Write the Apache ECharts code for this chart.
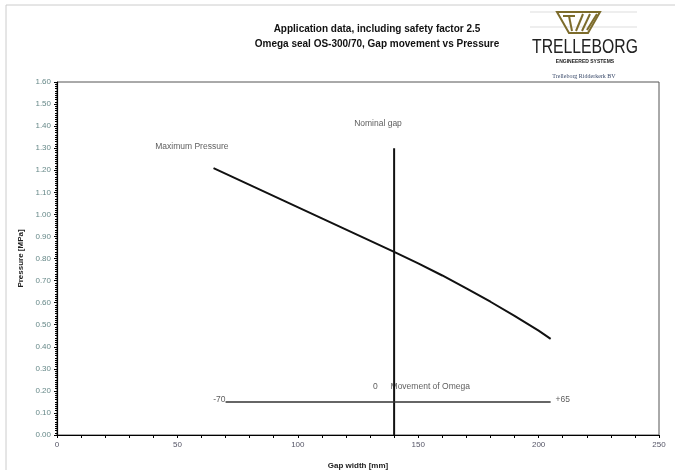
<!DOCTYPE html>
<html>
<head>
<meta charset="utf-8">
<script src="https://cdn.jsdelivr.net/npm/echarts@6/dist/echarts.min.js"></script>
<style>
  html, body { margin: 0; padding: 0; background: #fff; }
  #chart { width: 675px; height: 470px; }
</style>
</head>
<body>
<div id="chart"></div>
<script>
// gap width [mm] vs pressure [MPa]
const gapWidth = [65, 80, 95, 110, 125, 140, 150, 160, 170, 180, 190, 200, 205]
const maxPressure = [1.21, 1.134, 1.058, 0.982, 0.906, 0.83, 0.778, 0.723, 0.665, 0.604, 0.54, 0.473, 0.436]

const nominalGap = [[140, 0], [140, 1.30]]
const movementLine = [[70, 0.15], [205, 0.15]]

const xTicks = { min: 0, max: 250, interval: 50 }
const yTicks = { min: 0, max: 1.6, interval: 0.1 }

// annotation texts placed in data coordinates
const notes = [
  { text: 'Maximum Pressure', x: 56, y: 1.305, align: 'center' },
  { text: 'Nominal gap', x: 133.3, y: 1.41, align: 'center' },
  { text: '0', x: 132.2, y: 0.219, align: 'center' },
  { text: 'Movement of Omega', x: 155, y: 0.219, align: 'center' },
  { text: '-70', x: 70, y: 0.162, align: 'right' },
  { text: '+65', x: 207, y: 0.162, align: 'left' }
]

const chart = echarts.init(document.getElementById('chart'))

const font = 'Liberation Sans, Arial, sans-serif'
const olive = '#7d6c2c'

const option = {
  animation: false,
  backgroundColor: '#fff',
  title: {
    text: 'Application data, including safety factor 2.5\nOmega seal OS-300/70, Gap movement vs Pressure',
    left: 372,
    top: 17,
    textAlign: 'center',
    textStyle: { fontSize: 10, fontWeight: 'bold', fontFamily: font, color: '#111', lineHeight: 15, align: 'center' }
  },
  grid: {
    left: 57, right: 16, top: 82, bottom: 35,
    outerBoundsMode: 'none',
    show: true, borderColor: '#555', borderWidth: 1
  },
  xAxis: {
    type: 'value',
    min: xTicks.min, max: xTicks.max, interval: xTicks.interval,
    name: 'Gap width [mm]',
    nameLocation: 'middle',
    nameGap: 27,
    nameTextStyle: { fontSize: 8, fontWeight: 'bold', fontFamily: font, color: '#222' },
    axisLine: { lineStyle: { color: '#000', width: 1.2 } },
    axisTick: { lineStyle: { color: '#000' }, length: 3 },
    minorTick: { show: true, splitNumber: 5, length: 3, lineStyle: { color: '#000' } },
    axisLabel: { fontSize: 8, fontFamily: font, color: '#556', margin: 6 },
    splitLine: { show: false }
  },
  yAxis: {
    type: 'value',
    min: yTicks.min, max: yTicks.max, interval: yTicks.interval,
    name: 'Pressure [MPa]',
    nameLocation: 'middle',
    nameGap: 32,
    nameTextStyle: { fontSize: 8, fontWeight: 'bold', fontFamily: font, color: '#222' },
    axisLine: { lineStyle: { color: '#000', width: 1.2 } },
    axisTick: { lineStyle: { color: '#000' }, length: 3 },
    minorTick: { show: true, splitNumber: 10, length: 2, lineStyle: { color: '#000' } },
    axisLabel: { fontSize: 8, fontFamily: font, color: '#688', margin: 6, formatter: v => v.toFixed(2) },
    splitLine: { show: false }
  },
  series: [
    {
      name: 'Maximum Pressure',
      type: 'line',
      data: gapWidth.map((g, i) => [g, maxPressure[i]]),
      showSymbol: false,
      lineStyle: { color: '#111', width: 2 }
    },
    {
      name: 'Nominal gap',
      type: 'line',
      data: nominalGap,
      showSymbol: false,
      lineStyle: { color: '#111', width: 2 }
    },
    {
      name: 'Movement',
      type: 'line',
      data: movementLine,
      showSymbol: false,
      lineStyle: { color: '#333', width: 1.5 }
    },
    {
      name: 'notes',
      type: 'scatter',
      symbolSize: 0,
      silent: true,
      data: notes.map(n => ({
        value: [n.x, n.y],
        label: {
          show: true,
          position: n.align === 'right' ? 'left' : (n.align === 'left' ? 'right' : 'inside'),
          distance: 0,
          formatter: n.text,
          fontSize: 8.5,
          fontFamily: font,
          color: '#333'
        }
      }))
    }
  ],
  graphic: [
    // page frame
    { type: 'rect', shape: { x: 6, y: 5, width: 700, height: 500 }, style: { fill: 'none', stroke: '#ccc', lineWidth: 1 }, silent: true },
    // logo guide lines
    { type: 'line', shape: { x1: 530, y1: 12, x2: 637, y2: 12 }, style: { stroke: '#ddd', lineWidth: 1 } },
    { type: 'line', shape: { x1: 530, y1: 27, x2: 637, y2: 27 }, style: { stroke: '#ddd', lineWidth: 1 } },
    // logo mark
    { type: 'polygon', shape: { points: [[557, 12], [600, 12], [588, 33], [569, 33]] }, style: { fill: 'none', stroke: olive, lineWidth: 2 } },
    { type: 'polyline', shape: { points: [[563, 16], [575, 16]] }, style: { stroke: olive, lineWidth: 2 } },
    { type: 'polyline', shape: { points: [[569, 16], [572, 31]] }, style: { stroke: olive, lineWidth: 2 } },
    { type: 'polyline', shape: { points: [[583, 14], [576, 31]] }, style: { stroke: olive, lineWidth: 2 } },
    { type: 'polyline', shape: { points: [[590, 14], [582, 31]] }, style: { stroke: olive, lineWidth: 2 } },
    { type: 'polyline', shape: { points: [[597, 14], [587, 30]] }, style: { stroke: olive, lineWidth: 2 } },
    {
      type: 'text', x: 585, y: 47, scaleX: 0.75,
      style: { text: 'TRELLEBORG', fontSize: 21, fontFamily: font, fill: '#222', align: 'center', verticalAlign: 'middle' }
    },
    {
      type: 'text', x: 585, y: 62,
      style: { text: 'ENGINEERED SYSTEMS', fontSize: 5, fontWeight: 'bold', fontFamily: font, fill: '#222', align: 'center', verticalAlign: 'middle' }
    },
    {
      type: 'text', x: 584, y: 76,
      style: { text: 'Trelleborg Ridderkerk BV', fontSize: 6, fontFamily: 'Liberation Serif, serif', fill: '#3a4a6a', align: 'center', verticalAlign: 'middle' }
    }
  ]
}

chart.setOption(option)
</script>
</body>
</html>
